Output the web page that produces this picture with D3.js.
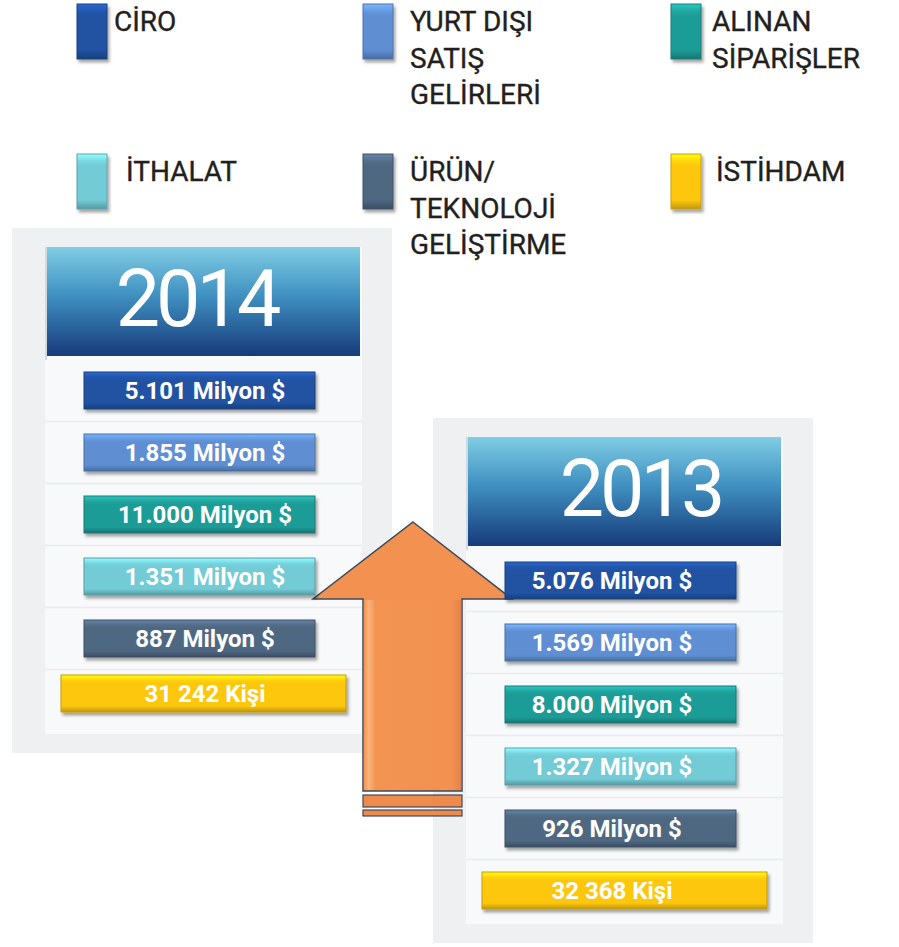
<!DOCTYPE html>
<html>
<head>
<meta charset="utf-8">
<script src="https://cdn.jsdelivr.net/npm/d3@7"></script>
<style>
  body { margin: 0; background: #fff; }
  svg { display: block; font-family: Roboto, 'DejaVu Sans', sans-serif; }
</style>
</head>
<body>
<div id="chart"></div>
<script>
// kategoriler ve değerler
const categories = ['CİRO', 'YURT DIŞI SATIŞ GELİRLERİ', 'ALINAN SİPARİŞLER', 'İTHALAT', 'ÜRÜN/ TEKNOLOJİ GELİŞTİRME', 'İSTİHDAM']
const legendLines = [['CİRO'], ['YURT DIŞI', 'SATIŞ', 'GELİRLERİ'], ['ALINAN', 'SİPARİŞLER'], ['İTHALAT'], ['ÜRÜN/', 'TEKNOLOJİ', 'GELİŞTİRME'], ['İSTİHDAM']]
const years = ['2014', '2013']
const values2014 = [5101, 1855, 11000, 1351, 887, 31242]
const values2013 = [5076, 1569, 8000, 1327, 926, 32368]
const units = ['Milyon $', 'Milyon $', 'Milyon $', 'Milyon $', 'Milyon $', 'Kişi']
const palette = ['#2152a3', '#5f8fd2', '#1f9c97', '#72cbd5', '#4f6782', '#fdc70a']

const width = 899
const height = 947

const trMoney = d3.formatLocale({ decimal: ',', thousands: '.', grouping: [3], currency: ['', ''] }).format(',d')
const trPeople = d3.formatLocale({ decimal: ',', thousands: ' ', grouping: [3], currency: ['', ''] }).format(',d')
const label = (v, i) => `${units[i] === 'Kişi' ? trPeople(v) : trMoney(v)} ${units[i]}`

const svg = d3.select('#chart')
  .append('svg')
  .attr('width', width)
  .attr('height', height)

const defs = svg.append('defs')

const shadow = defs.append('filter').attr('id', 'shadow')
  .attr('x', '-10%').attr('y', '-20%').attr('width', '130%').attr('height', '160%')
shadow.append('feDropShadow')
  .attr('dx', 2).attr('dy', 3).attr('stdDeviation', 1.8)
  .attr('flood-color', '#000').attr('flood-opacity', 0.35)

// kabartma efekti için dikey gradyanlar
palette.forEach((c, i) => {
  const g = defs.append('linearGradient').attr('id', `bevel${i}`)
    .attr('x1', 0).attr('y1', 0).attr('x2', 0).attr('y2', 1)
  g.append('stop').attr('offset', 0).attr('stop-color', d3.color(c).brighter(0.7))
  g.append('stop').attr('offset', 0.14).attr('stop-color', d3.color(c).brighter(0.15))
  g.append('stop').attr('offset', 0.22).attr('stop-color', c)
  g.append('stop').attr('offset', 0.84).attr('stop-color', c)
  g.append('stop').attr('offset', 1).attr('stop-color', d3.color(c).darker(0.8))
})

const headGrad = defs.append('linearGradient').attr('id', 'head')
  .attr('x1', 0).attr('y1', 0).attr('x2', 0).attr('y2', 1)
headGrad.append('stop').attr('offset', 0).attr('stop-color', '#80cde4')
headGrad.append('stop').attr('offset', 0.45).attr('stop-color', '#3f8fc0')
headGrad.append('stop').attr('offset', 1).attr('stop-color', '#173b7a')

const arrowGrad = defs.append('linearGradient').attr('id', 'arrowShaft')
arrowGrad.append('stop').attr('offset', 0).attr('stop-color', '#f39150')
arrowGrad.append('stop').attr('offset', 0.05).attr('stop-color', '#f9b47c')
arrowGrad.append('stop').attr('offset', 0.12).attr('stop-color', '#f39452')
arrowGrad.append('stop').attr('offset', 0.9).attr('stop-color', '#f29150')
arrowGrad.append('stop').attr('offset', 1).attr('stop-color', '#e4824a')

// lejant
const legendCols = [77, 363, 671]
const legendRows = [4, 154]
const legendGap = [7, 17, 11, 19, 17, 15]
const lineStep = 36.5

const legend = svg.append('g').selectAll('g')
  .data(categories)
  .join('g')
  .attr('transform', (d, i) => `translate(${legendCols[i % 3]},${legendRows[Math.floor(i / 3)]})`)

legend.append('rect')
  .attr('width', 30)
  .attr('height', 55)
  .attr('fill', (d, i) => `url(#bevel${i})`)
  .attr('stroke', (d, i) => d3.color(palette[i]).darker(0.6))
  .attr('stroke-width', 1)
  .attr('filter', 'url(#shadow)')

legend.append('text')
  .attr('x', (d, i) => 30 + legendGap[i])
  .attr('y', 27)
  .attr('font-size', 28)
  .attr('fill', '#231f20')
  .attr('stroke', '#231f20')
  .attr('stroke-width', 0.35)
  .selectAll('tspan')
  .data((d, i) => legendLines[i])
  .join('tspan')
  .attr('x', function () { return this.parentNode.getAttribute('x') })
  .attr('dy', (d, j) => j === 0 ? 0 : lineStep)
  .text(d => d)

// paneller
const panels = [
  { year: years[0], values: values2014, x: 12, y: 228, yearDx: -7, textX: 160, lastDy: -7 },
  { year: years[1], values: values2013, x: 433, y: 418, yearDx: 16, textX: 146, lastDy: 0 }
]
const outerW = 380
const outerH = 525
const innerDx = 33
const innerDy = 19
const innerW = 317
const innerH = 487
const headH = 109

const yScale = d3.scaleBand()
  .domain(categories)
  .range([0, 347])
  .paddingInner(25 / 62)
  .paddingOuter(0)

const panelG = svg.selectAll('.panel')
  .data(panels)
  .join('g')
  .attr('class', 'panel')
  .attr('transform', d => `translate(${d.x},${d.y})`)

panelG.append('rect')
  .attr('width', outerW)
  .attr('height', outerH)
  .attr('fill', '#eef0f2')

panelG.append('rect')
  .attr('x', innerDx)
  .attr('y', innerDy)
  .attr('width', innerW)
  .attr('height', innerH)
  .attr('fill', '#f8f9fa')

// satır ayırıcı çizgiler
panelG.each(function () {
  d3.select(this).selectAll('.sep')
    .data(categories.slice(1))
    .join('line')
    .attr('class', 'sep')
    .attr('x1', innerDx)
    .attr('x2', innerDx + innerW)
    .attr('y1', d => innerDy + headH + 16 + yScale(d) - yScale.step() * (25 / 62) / 2)
    .attr('y2', d => innerDy + headH + 16 + yScale(d) - yScale.step() * (25 / 62) / 2)
    .attr('stroke', '#e9ecef')
    .attr('stroke-width', 1.5)
})

// ok
const arrow = svg.append('g')
arrow.append('path')
  .attr('d', d3.line()([[413, 522], [512, 599], [462, 599], [462, 791], [363, 791], [363, 599], [313, 599]]) + 'Z')
  .attr('fill', '#f39150')
  .attr('stroke', '#3d4a5c')
  .attr('stroke-width', 1.5)
  .attr('stroke-linejoin', 'miter')
arrow.append('rect')
  .attr('x', 363.8).attr('y', 600).attr('width', 97.5).attr('height', 190)
  .attr('fill', 'url(#arrowShaft)')
arrow.selectAll('.strip')
  .data([[795, 12], [810, 6]])
  .join('rect')
  .attr('class', 'strip')
  .attr('x', 363)
  .attr('y', d => d[0])
  .attr('width', 99)
  .attr('height', d => d[1])
  .attr('fill', '#ee8a4c')
  .attr('stroke', '#3d4a5c')
  .attr('stroke-width', 1.2)

// başlıklar ve çubuklar
const content = svg.selectAll('.content')
  .data(panels)
  .join('g')
  .attr('class', 'content')
  .attr('transform', d => `translate(${d.x + innerDx},${d.y + innerDy})`)

content.append('rect')
  .attr('x', 2)
  .attr('width', innerW - 4)
  .attr('height', headH)
  .attr('fill', 'url(#head)')

content.append('line')
  .attr('x1', 1).attr('x2', 1).attr('y1', 0).attr('y2', headH + 4)
  .attr('stroke', '#c5ced8').attr('stroke-width', 1.5)

content.append('text')
  .attr('x', d => innerW / 2 + d.yearDx)
  .attr('y', 79)
  .attr('text-anchor', 'middle')
  .attr('font-size', 79)
  .attr('letter-spacing', -4)
  .attr('fill', '#fff')
  .text(d => d.year)

const bars = content.append('g')
  .attr('transform', `translate(0,${headH + 16})`)
  .selectAll('g')
  .data(d => d.values.map((v, i) => ({ v, i, cat: categories[i], p: d })))
  .join('g')
  .attr('transform', d => d.i === 5 ? `translate(0,${d.p.lastDy})` : null)

const barX = d => d.i === 5 ? 16 : 39
const barW = d => d.i === 5 ? 285 : 231

bars.append('rect')
  .attr('x', barX)
  .attr('y', d => yScale(d.cat))
  .attr('width', barW)
  .attr('height', yScale.bandwidth())
  .attr('fill', d => `url(#bevel${d.i})`)
  .attr('stroke', d => d3.color(palette[d.i]).darker(0.7))
  .attr('stroke-width', 1)
  .attr('filter', 'url(#shadow)')

bars.append('text')
  .text(d => label(d.v, d.i))
  .attr('x', d => d.p.textX)
  .attr('y', d => yScale(d.cat) + yScale.bandwidth() / 2 + 8.5)
  .attr('text-anchor', 'middle')
  .attr('font-size', 24)
  .attr('font-weight', 700)
  .attr('fill', '#fff')
</script>
</body>
</html>
